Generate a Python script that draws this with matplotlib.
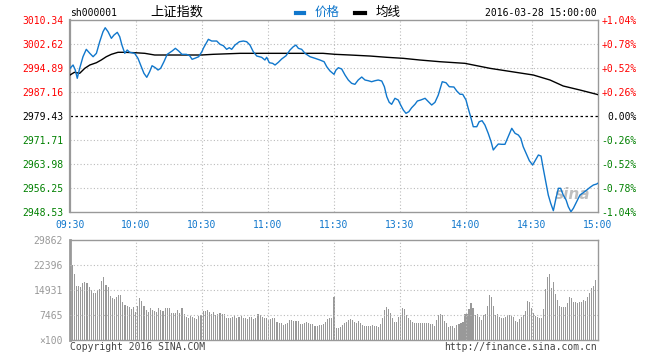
import matplotlib
matplotlib.use('Agg')
import matplotlib.pyplot as plt
import numpy as np

# previous close and axis ticks
pre_close = 2979.43
price_ticks = [3010.34, 3002.62, 2994.89, 2987.16, 2979.43, 2971.71, 2963.98, 2956.25, 2948.53]
pct_labels = ['+1.04%', '+0.78%', '+0.52%', '+0.26%', '0.00%', '-0.26%', '-0.52%', '-0.78%', '-1.04%']
time_labels = ['09:30', '10:00', '10:30', '11:00', '11:30', '13:30', '14:00', '14:30', '15:00']
vol_ticks = [29862, 22396, 14931, 7465, 0]
vol_tick_labels = ['29862', '22396', '14931', '7465', '×100']

# minute index (0 = 09:30, 120 = 11:30/13:00, 240 = 15:00) and index value
price_min = [0, 1.4, 2.4, 3.3, 4.4, 5.9, 7.4, 9.0, 10.5, 12.0,
             13.5, 15.0, 16.0, 17.3, 18.8, 20.0, 21.5, 22.6, 23.6, 24.9,
             26.0, 27.1, 29.4, 30.9, 32.4, 33.6, 34.9, 36.2, 37.3, 38.8,
             40.0, 41.2, 42.7, 44.2, 46.4, 47.9, 49.4, 50.9, 52.9, 54.4,
             55.5, 56.7, 58.5, 60.1, 60.6, 62.9, 64.4, 66.7, 68.2, 69.7,
             71.2, 72.4, 73.5, 75.0, 77.0, 78.8, 80.3, 81.8, 83.3, 84.9,
             87.1, 88.6, 89.4, 90.6, 92.1, 93.2, 94.7, 96.2, 98.2, 100.0,
             101.5, 102.7, 103.8, 105.3, 106.8, 109.1, 111.4, 113.6, 115.5, 116.7,
             118.2, 120.0, 120.9, 122.0, 123.5, 125.0, 126.5, 128.0, 129.5, 131.0,
             132.6, 134.1, 135.6, 137.1, 138.6, 140.1, 141.7, 142.9, 144.0, 145.1,
             146.2, 147.7, 149.2, 150.3, 151.5, 152.7, 154.0, 155.3, 156.8, 157.9,
             159.4, 161.4, 162.9, 164.4, 165.9, 167.4, 169.2, 170.9, 172.4, 174.5,
             175.8, 177.3, 178.5, 180.0, 181.0, 182.1, 183.3, 184.9, 186.0, 187.3,
             188.6, 190.1, 191.4, 192.4, 193.6, 194.7, 196.2, 197.7, 199.2, 200.8,
             202.3, 203.8, 204.9, 206.0, 207.3, 208.8, 210.3, 211.4, 212.9, 214.1,
             215.1, 216.4, 217.4, 218.5, 219.7, 220.9, 222.0, 223.0, 224.2, 225.5,
             226.5, 227.7, 228.8, 230.3, 231.8, 233.3, 234.9, 236.4, 237.9, 239.4,
             240.0]
price = [2994.78, 2995.85, 2994.24, 2991.57, 2994.78, 2998.52, 3000.90, 2999.61, 2998.52, 2999.61,
         3003.35, 3006.57, 3007.85, 3006.57, 3004.44, 3005.50, 3006.37, 3004.96, 3002.28, 2999.61,
         3000.68, 2999.94, 2999.61, 2998.00, 2995.30, 2993.18, 2991.89, 2993.69, 2995.62, 2994.98,
         2994.24, 2994.78, 2996.91, 2999.29, 3000.35, 3001.22, 3000.35, 2999.29, 2999.29, 2998.84,
         2997.68, 2998.00, 2998.52, 3000.35, 3001.22, 3004.12, 3003.57, 3003.57, 3002.51, 3002.06,
         3000.90, 3001.42, 3000.90, 3002.28, 3003.35, 3003.57, 3003.35, 3002.28, 3000.13, 2998.74,
         2998.33, 2997.46, 2998.33, 2996.59, 2996.39, 2995.85, 2996.72, 2997.78, 2998.84, 3000.68,
         3001.74, 3002.28, 3001.22, 3000.90, 2999.61, 2998.52, 2998.00, 2997.46, 2996.91, 2995.30,
         2993.92, 2992.85, 2994.24, 2994.98, 2994.56, 2992.63, 2991.02, 2989.96, 2989.63, 2991.02,
         2991.98, 2991.02, 2990.79, 2990.47, 2990.79, 2991.02, 2990.70, 2988.86, 2985.64, 2983.84,
         2983.20, 2985.13, 2984.58, 2982.97, 2981.36, 2980.30, 2980.81, 2982.10, 2983.20, 2984.26,
         2984.58, 2985.13, 2984.03, 2982.97, 2983.84, 2986.19, 2990.47, 2990.15, 2988.86, 2988.77,
         2987.48, 2986.42, 2986.42, 2984.58, 2981.91, 2979.20, 2975.99, 2975.99, 2977.60, 2977.92,
         2976.53, 2973.86, 2971.16, 2968.49, 2969.55, 2970.42, 2970.32, 2970.32, 2972.77, 2975.47,
         2973.86, 2973.31, 2972.25, 2969.55, 2967.42, 2965.04, 2963.66, 2965.04, 2966.88, 2966.55,
         2962.59, 2957.77, 2954.00, 2951.33, 2948.95, 2952.94, 2956.16, 2956.16, 2954.00, 2952.39,
         2950.23, 2948.62, 2949.72, 2951.84, 2954.00, 2954.74, 2955.61, 2956.48, 2957.22, 2957.54,
         2957.82]

avg_min = [0, 2, 4.4, 6.7, 9, 12, 14.2, 16.5, 18.8, 21.8, 24.9, 29.4, 34, 38.5, 59.7, 65,
           77.3, 115, 120.5, 127.3, 136.4, 144, 151.5, 159, 168.2, 179.5, 190.9, 210.6,
           218.2, 224.2, 231.8, 239.4, 240]
avg_price = [2992.63, 2993.50, 2993.18, 2994.78, 2995.85, 2996.59, 2997.46, 2998.52, 2999.29,
             2999.94, 2999.94, 2999.81, 2999.61, 2999.07, 2999.07, 2999.29, 2999.61, 2999.61,
             2999.29, 2999.07, 2998.74, 2998.33, 2998.00, 2997.46, 2996.91, 2996.39, 2994.78,
             2992.63, 2991.02, 2989.09, 2987.80, 2986.42, 2986.30]

# volume per minute, in units of 100 lots
vol_am = [22400, 19700, 16100, 16100, 15900, 16900, 17200, 16900, 15700, 14900,
          14100, 14100, 14900, 15200, 17600, 18800, 16400, 15700, 13200, 12600,
          12200, 12900, 13400, 13400, 11400, 10500, 10200, 9900, 9300, 10000,
          8300, 10200, 12600, 11600, 10300, 9100, 8500, 9700, 9000, 8700,
          8300, 9500, 9000, 8700, 9700, 9700, 9700, 8200, 8000, 8200,
          9000, 8000, 9700, 7700, 7000, 6700, 7300, 7000, 6700, 6300,
          7300, 7500, 8700, 8700, 8900, 8300, 7700, 8300, 7500, 7700,
          8000, 7700, 7700, 6700, 6700, 6700, 7000, 7500, 6700, 7000,
          7300, 6700, 6500, 6200, 6900, 7000, 6300, 6500, 7700, 7500,
          7000, 6700, 6500, 5900, 6200, 6500, 6500, 5500, 5200, 5200,
          4500, 4700, 5000, 6000, 6000, 5700, 5700, 5700, 4700, 4700,
          5000, 5300, 5000, 4900, 4700, 4200, 4200, 4500, 4500, 4700,
          5300, 6200, 6500, 6500, 12700]
vol_pm = [3700, 3700, 4000, 4500, 5000, 5500, 5900, 6300, 6100, 5500,
          5000, 5700, 5000, 4500, 4300, 4300, 4300, 4300, 4500, 4300,
          4300, 4000, 4700, 6700, 9000, 10000, 9300, 8000, 6700, 5500,
          5300, 7000, 7500, 9500, 9300, 7500, 6500, 5900, 5300, 5000,
          5000, 5000, 5000, 5000, 5000, 5000, 5000, 4700, 4700, 4300,
          6000, 7500, 7700, 7500, 5700, 5000, 4000, 4300, 4300, 3700,
          4500, 4700, 5000, 5300, 7700, 7700, 9300, 11000, 9700, 7500,
          7700, 7000, 6000, 7500, 7700, 10300, 13400, 12700, 10300, 7500,
          7700, 7000, 6700, 6700, 7000, 7500, 7500, 7300, 7000, 5700,
          5500, 6200, 7000, 7500, 8700, 11600, 11400, 9700, 8000, 7300,
          7000, 6500, 6500, 9300, 15200, 18700, 19600, 15400, 17400, 13600,
          11900, 10200, 10000, 10000, 10000, 11000, 12900, 12600, 11400, 11400,
          11000, 11200, 11400, 11800, 11600, 12800, 13900, 15600, 16200, 17900]

RED = '#ff0000'
GREEN = '#008000'
BLUE = '#1077cc'
GRAY = '#999999'
MONO = 'DejaVu Sans Mono'
CJK = ['Noto Sans CJK SC', 'DejaVu Sans']

W, H = 660, 360
fig = plt.figure(figsize=(W / 100, H / 100), dpi=100)


def px_axes(x0, y0, x1, y1):
    return fig.add_axes([x0 / W, 1 - y1 / H, (x1 - x0) / W, (y1 - y0) / H])


def frame(ax, left_w):
    for side, sp in ax.spines.items():
        sp.set_color(GRAY)
        sp.set_linewidth(left_w if side == 'left' else 1.0)


grid_style = dict(color='#bbbbbb', linestyle=(0, (1, 2)), linewidth=0.8)

# ---- price panel ----
ax = px_axes(70, 20, 598, 212)
ax.set_xlim(0, 240)
ax.set_ylim(price_ticks[-1], price_ticks[0])
frame(ax, 1.6)
ax.set_xticks(np.arange(0, 241, 30))
ax.set_xticklabels(time_labels, fontfamily=MONO, fontsize=7, color=BLUE)
ax.set_yticks(price_ticks)
ax.set_yticklabels(['%.2f' % v for v in price_ticks], fontfamily=MONO, fontsize=7)
for lab, v in zip(ax.get_yticklabels(), price_ticks):
    lab.set_color(RED if v > pre_close + 0.001 else (GREEN if v < pre_close - 0.001 else 'black'))
ax.tick_params(axis='both', length=0)
ax.tick_params(axis='y', pad=5)
ax.tick_params(axis='x', pad=6)
for t in price_ticks[1:-1]:
    if abs(t - pre_close) > 0.001:
        ax.axhline(t, **grid_style, zorder=1)
for m in range(30, 240, 30):
    ax.axvline(m, **grid_style, zorder=1)
ax.axhline(pre_close, color='black', linestyle=(0, (2, 2)), linewidth=0.9, zorder=2)

ax.plot(avg_min, avg_price, color='black', linewidth=1.0, zorder=3)
ax.plot(price_min, price, color=BLUE, linewidth=1.0, zorder=4)

ax2 = ax.twinx()
ax2.set_ylim(ax.get_ylim())
ax2.set_yticks(price_ticks)
ax2.set_yticklabels(pct_labels, fontfamily=MONO, fontsize=7)
for lab, v in zip(ax2.get_yticklabels(), price_ticks):
    lab.set_color(RED if v > pre_close + 0.001 else (GREEN if v < pre_close - 0.001 else 'black'))
    lab.set_horizontalalignment('right')
ax2.tick_params(axis='y', length=0, pad=28)
for sp in ax2.spines.values():
    sp.set_visible(False)

# sina watermark
ax.text(0.985, 0.05, 'sina', transform=ax.transAxes, ha='right', va='bottom',
        fontsize=11, fontweight='bold', style='italic', color='#b0b0b0', alpha=0.8, zorder=2)

# ---- volume panel ----
axv = px_axes(70, 240, 598, 340)
axv.set_xlim(0, 240)
axv.set_ylim(0, vol_ticks[0])
frame(axv, 2.0)
axv.set_xticks([])
axv.set_yticks(vol_ticks)
axv.set_yticklabels(vol_tick_labels, fontfamily=MONO, fontsize=7, color=GRAY)
axv.tick_params(axis='y', length=0, pad=5)
am_x = np.linspace(1, 120, len(vol_am))
pm_x = np.linspace(121, 239, len(vol_pm))
axv.bar(am_x, vol_am, width=0.5, color=GRAY, linewidth=0, antialiased=False, zorder=2)
axv.bar(pm_x, vol_pm, width=0.5, color=GRAY, linewidth=0, antialiased=False, zorder=2)
for t in vol_ticks[1:-1]:
    axv.axhline(t, **grid_style, zorder=3)
for m in range(30, 240, 30):
    axv.axvline(m, **grid_style, zorder=3)

# ---- header and footer text ----
fig.text(70 / W, 1 - 13 / H, 'sh000001', fontfamily=MONO, fontsize=7, va='center', ha='left')
fig.text(150 / W, 1 - 12 / H, '上证指数', family=CJK, fontsize=9.5, va='center', ha='left')
fig.lines.append(plt.Line2D([296 / W, 304 / W], [1 - 13 / H, 1 - 13 / H], color=BLUE,
                            linewidth=3, transform=fig.transFigure, figure=fig))
fig.text(315 / W, 1 - 12 / H, '价格', family=CJK, fontsize=9, color=BLUE, va='center', ha='left')
fig.lines.append(plt.Line2D([355 / W, 365 / W], [1 - 13 / H, 1 - 13 / H], color='black',
                            linewidth=3, transform=fig.transFigure, figure=fig))
fig.text(376 / W, 1 - 12 / H, '均线', family=CJK, fontsize=9, color='black', va='center', ha='left')
fig.text(597 / W, 1 - 13 / H, '2016-03-28 15:00:00', fontfamily=MONO, fontsize=7,
         va='center', ha='right')
fig.text(70 / W, 1 - 347 / H, 'Copyright 2016 SINA.COM', fontfamily=MONO, fontsize=7,
         color='#444444', va='center', ha='left')
fig.text(597 / W, 1 - 347 / H, 'http://finance.sina.com.cn', fontfamily=MONO, fontsize=7,
         color='#444444', va='center', ha='right')

fig.savefig('out.png', dpi=100, facecolor='white')
